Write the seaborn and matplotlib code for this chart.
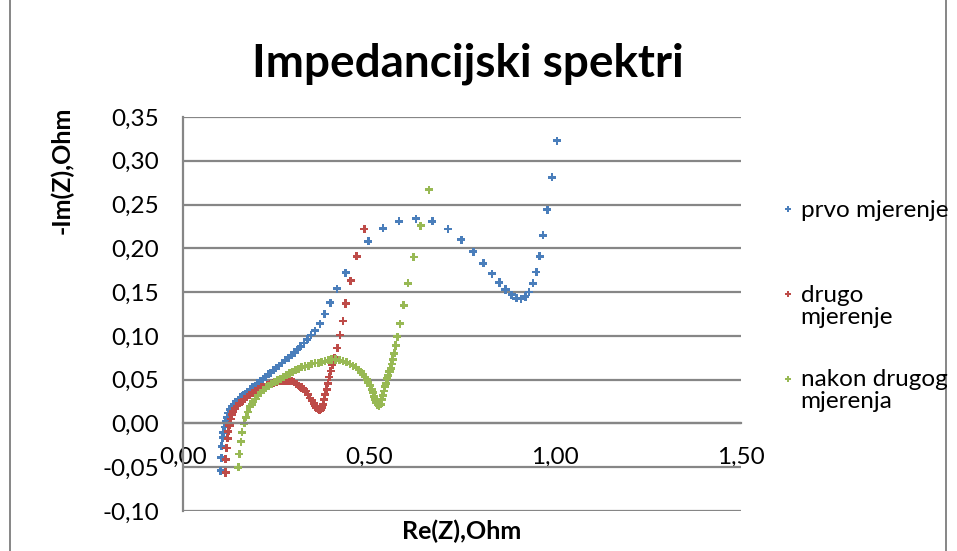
import numpy as np
import pandas as pd
import seaborn as sns
import matplotlib.pyplot as plt
from matplotlib.ticker import FuncFormatter, MultipleLocator
from matplotlib.lines import Line2D
from matplotlib.patches import Rectangle
from matplotlib.legend_handler import HandlerLine2D

# prvo mjerenje  (Re(Z), -Im(Z))
prvo_re = [0.101, 0.103, 0.104, 0.107, 0.109, 0.112, 0.115, 0.118, 0.122, 0.126,
           0.131, 0.137, 0.143, 0.149, 0.155, 0.161, 0.167, 0.173, 0.180, 0.187,
           0.194, 0.201, 0.208, 0.215, 0.222, 0.229, 0.236, 0.243, 0.250, 0.258,
           0.266, 0.274, 0.283, 0.291, 0.299, 0.307, 0.316, 0.325, 0.334, 0.344,
           0.355, 0.368, 0.381, 0.396, 0.414, 0.437, 0.467, 0.498, 0.538, 0.581,
           0.626, 0.670, 0.712, 0.748, 0.780, 0.807, 0.831, 0.850, 0.867, 0.884,
           0.896, 0.909, 0.920, 0.930, 0.941, 0.950, 0.959, 0.968, 0.979, 0.992,
           1.005]
prvo_im = [-0.054, -0.039, -0.026, -0.016, -0.010, -0.004, 0.002, 0.007, 0.012, 0.016,
           0.019, 0.022, 0.025, 0.027, 0.030, 0.032, 0.034, 0.036, 0.039, 0.041,
           0.043, 0.046, 0.048, 0.051, 0.053, 0.056, 0.058, 0.061, 0.063, 0.066,
           0.069, 0.072, 0.075, 0.078, 0.081, 0.084, 0.088, 0.092, 0.096, 0.101,
           0.106, 0.114, 0.125, 0.138, 0.154, 0.172, 0.191, 0.208, 0.223, 0.231,
           0.234, 0.231, 0.222, 0.210, 0.196, 0.183, 0.171, 0.161, 0.153, 0.147,
           0.143, 0.142, 0.145, 0.150, 0.160, 0.173, 0.191, 0.215, 0.244, 0.281,
           0.323]

# drugo mjerenje
drugo_re = [0.115, 0.115, 0.117, 0.120, 0.122, 0.125, 0.128, 0.131, 0.135, 0.140,
            0.146, 0.152, 0.158, 0.165, 0.172, 0.179, 0.187, 0.195, 0.203, 0.211,
            0.219, 0.227, 0.235, 0.243, 0.251, 0.259, 0.267, 0.275, 0.283, 0.291,
            0.298, 0.305, 0.312, 0.318, 0.324, 0.330, 0.336, 0.341, 0.346, 0.351,
            0.355, 0.359, 0.363, 0.367, 0.370, 0.373, 0.376, 0.379, 0.382, 0.386,
            0.390, 0.393, 0.397, 0.401, 0.407, 0.415, 0.422, 0.430, 0.437, 0.451,
            0.467, 0.487]
drugo_im = [-0.056, -0.041, -0.028, -0.017, -0.009, -0.002, 0.005, 0.010, 0.014, 0.017,
            0.020, 0.023, 0.025, 0.028, 0.030, 0.032, 0.035, 0.037, 0.039, 0.041,
            0.042, 0.044, 0.045, 0.046, 0.047, 0.048, 0.048, 0.049, 0.048, 0.048,
            0.047, 0.045, 0.043, 0.041, 0.039, 0.037, 0.033, 0.029, 0.026, 0.023,
            0.020, 0.018, 0.016, 0.015, 0.016, 0.018, 0.022, 0.027, 0.033, 0.039,
            0.046, 0.053, 0.060, 0.067, 0.075, 0.086, 0.101, 0.117, 0.137, 0.163,
            0.191, 0.222]

# nakon drugog mjerenja
nakon_re = [0.149, 0.151, 0.156, 0.159, 0.165, 0.169, 0.174, 0.180, 0.185, 0.189,
            0.195, 0.202, 0.209, 0.216, 0.223, 0.230, 0.238, 0.246, 0.254, 0.262,
            0.270, 0.278, 0.286, 0.294, 0.302, 0.310, 0.319, 0.328, 0.337, 0.346,
            0.355, 0.364, 0.373, 0.382, 0.391, 0.400, 0.410, 0.420, 0.430, 0.440,
            0.449, 0.457, 0.465, 0.472, 0.478, 0.484, 0.489, 0.494, 0.498, 0.503,
            0.507, 0.511, 0.514, 0.517, 0.520, 0.523, 0.527, 0.531, 0.534, 0.537,
            0.540, 0.543, 0.546, 0.549, 0.552, 0.555, 0.558, 0.561, 0.564, 0.568,
            0.572, 0.576, 0.583, 0.593, 0.605, 0.620, 0.639, 0.661]
nakon_im = [-0.050, -0.035, -0.021, -0.010, 0.000, 0.007, 0.013, 0.019, 0.022, 0.025,
            0.028, 0.032, 0.035, 0.038, 0.041, 0.043, 0.045, 0.047, 0.049, 0.051,
            0.053, 0.055, 0.057, 0.059, 0.061, 0.062, 0.064, 0.065, 0.066, 0.068,
            0.069, 0.069, 0.070, 0.071, 0.072, 0.073, 0.073, 0.072, 0.071, 0.070,
            0.068, 0.066, 0.064, 0.061, 0.059, 0.056, 0.053, 0.050, 0.047, 0.043,
            0.039, 0.035, 0.031, 0.027, 0.024, 0.021, 0.020, 0.022, 0.027, 0.032,
            0.037, 0.042, 0.046, 0.051, 0.055, 0.059, 0.063, 0.068, 0.073, 0.080,
            0.089, 0.099, 0.114, 0.135, 0.160, 0.190, 0.226, 0.267]

serije = ["prvo mjerenje", "drugo mjerenje", "nakon drugog mjerenja"]
legenda = ["prvo mjerenje\n ", "drugo\nmjerenje", "nakon drugog\nmjerenja"]
boje = ["#4a7ebb", "#be4b48", "#98b954"]

df = pd.concat([
    pd.DataFrame({"Re": prvo_re, "Im": prvo_im, "serija": serije[0]}),
    pd.DataFrame({"Re": drugo_re, "Im": drugo_im, "serija": serije[1]}),
    pd.DataFrame({"Re": nakon_re, "Im": nakon_im, "serija": serije[2]}),
])

sns.set_style("white")
plt.rcParams["font.family"] = ["Lato", "DejaVu Sans"]
siva = "#868686"

fig = plt.figure(figsize=(9.57, 5.51), dpi=100)
ax = fig.add_axes([183 / 957, 1 - 511 / 551, (741 - 183) / 957, (511 - 117) / 551])

sns.scatterplot(data=df, x="Re", y="Im", hue="serija", palette=boje,
                marker="P", s=34, linewidth=0, legend=False, ax=ax)

ax.set_xlim(0, 1.5)
ax.set_ylim(-0.1, 0.35)
ax.xaxis.set_major_locator(MultipleLocator(0.5))
ax.yaxis.set_major_locator(MultipleLocator(0.05))
fmt = FuncFormatter(lambda v, p: f"{v:.2f}".replace(".", ","))
ax.xaxis.set_major_formatter(fmt)
ax.yaxis.set_major_formatter(fmt)
ax.grid(axis="y", color=siva, lw=1.6)
ax.set_axisbelow(True)
for s in ["top", "right"]:
    ax.spines[s].set_visible(False)
ax.spines["bottom"].set_position(("data", 0))
ax.spines["bottom"].set_color(siva)
ax.spines["bottom"].set_linewidth(1.6)
ax.spines["left"].set_color(siva)
ax.spines["left"].set_linewidth(1.6)
ax.tick_params(axis="both", colors=siva, labelcolor="black", length=6, width=1.4,
               labelsize=17.5, pad=11)
ax.set_xlabel("")
ax.set_ylabel("")

fig.text(0.489, 1 - 76 / 551, "Impedancijski spektri", ha="center", va="baseline",
         fontsize=33, fontweight="bold", color="black")
fig.text(62 / 957, 1 - 170 / 551, "-Im(Z),Ohm", rotation=90, ha="center", va="center",
         fontsize=18, fontweight="bold", color="black")
fig.text(462 / 957, 1 - 531 / 551, "Re(Z),Ohm", ha="center", va="center",
         fontsize=18, fontweight="bold", color="black")


class GornjiRed(HandlerLine2D):
    # oznaka uz prvi red dvoredne oznake
    def create_artists(self, legend, orig_handle, xdescent, ydescent, width, height,
                       fontsize, trans):
        arts = super().create_artists(legend, orig_handle, xdescent, ydescent, width,
                                      height, fontsize, trans)
        for a in arts:
            a.set_ydata(np.asarray(a.get_ydata()) + fontsize * 0.5)
        return arts


ruke = [Line2D([], [], ls="", marker="P", markersize=5, markeredgewidth=0, color=c)
        for c in boje]
leg = fig.legend(ruke, legenda, loc="upper left", bbox_to_anchor=(769 / 957, 1 - 188 / 551),
                 frameon=False, fontsize=17.5, handlelength=0.6, handletextpad=0.2,
                 labelspacing=1.72, borderpad=0,
                 handler_map={Line2D: GornjiRed()})
for t in leg.get_texts():
    t.set_linespacing(1.05)
    t.set_color("black")

fig.add_artist(Rectangle((10 / 957, -0.05), (946 - 10) / 957, 1.1, transform=fig.transFigure,
                         fill=False, edgecolor=siva, lw=1.4, clip_on=False))

fig.savefig("out.png", dpi=100, facecolor="white")
